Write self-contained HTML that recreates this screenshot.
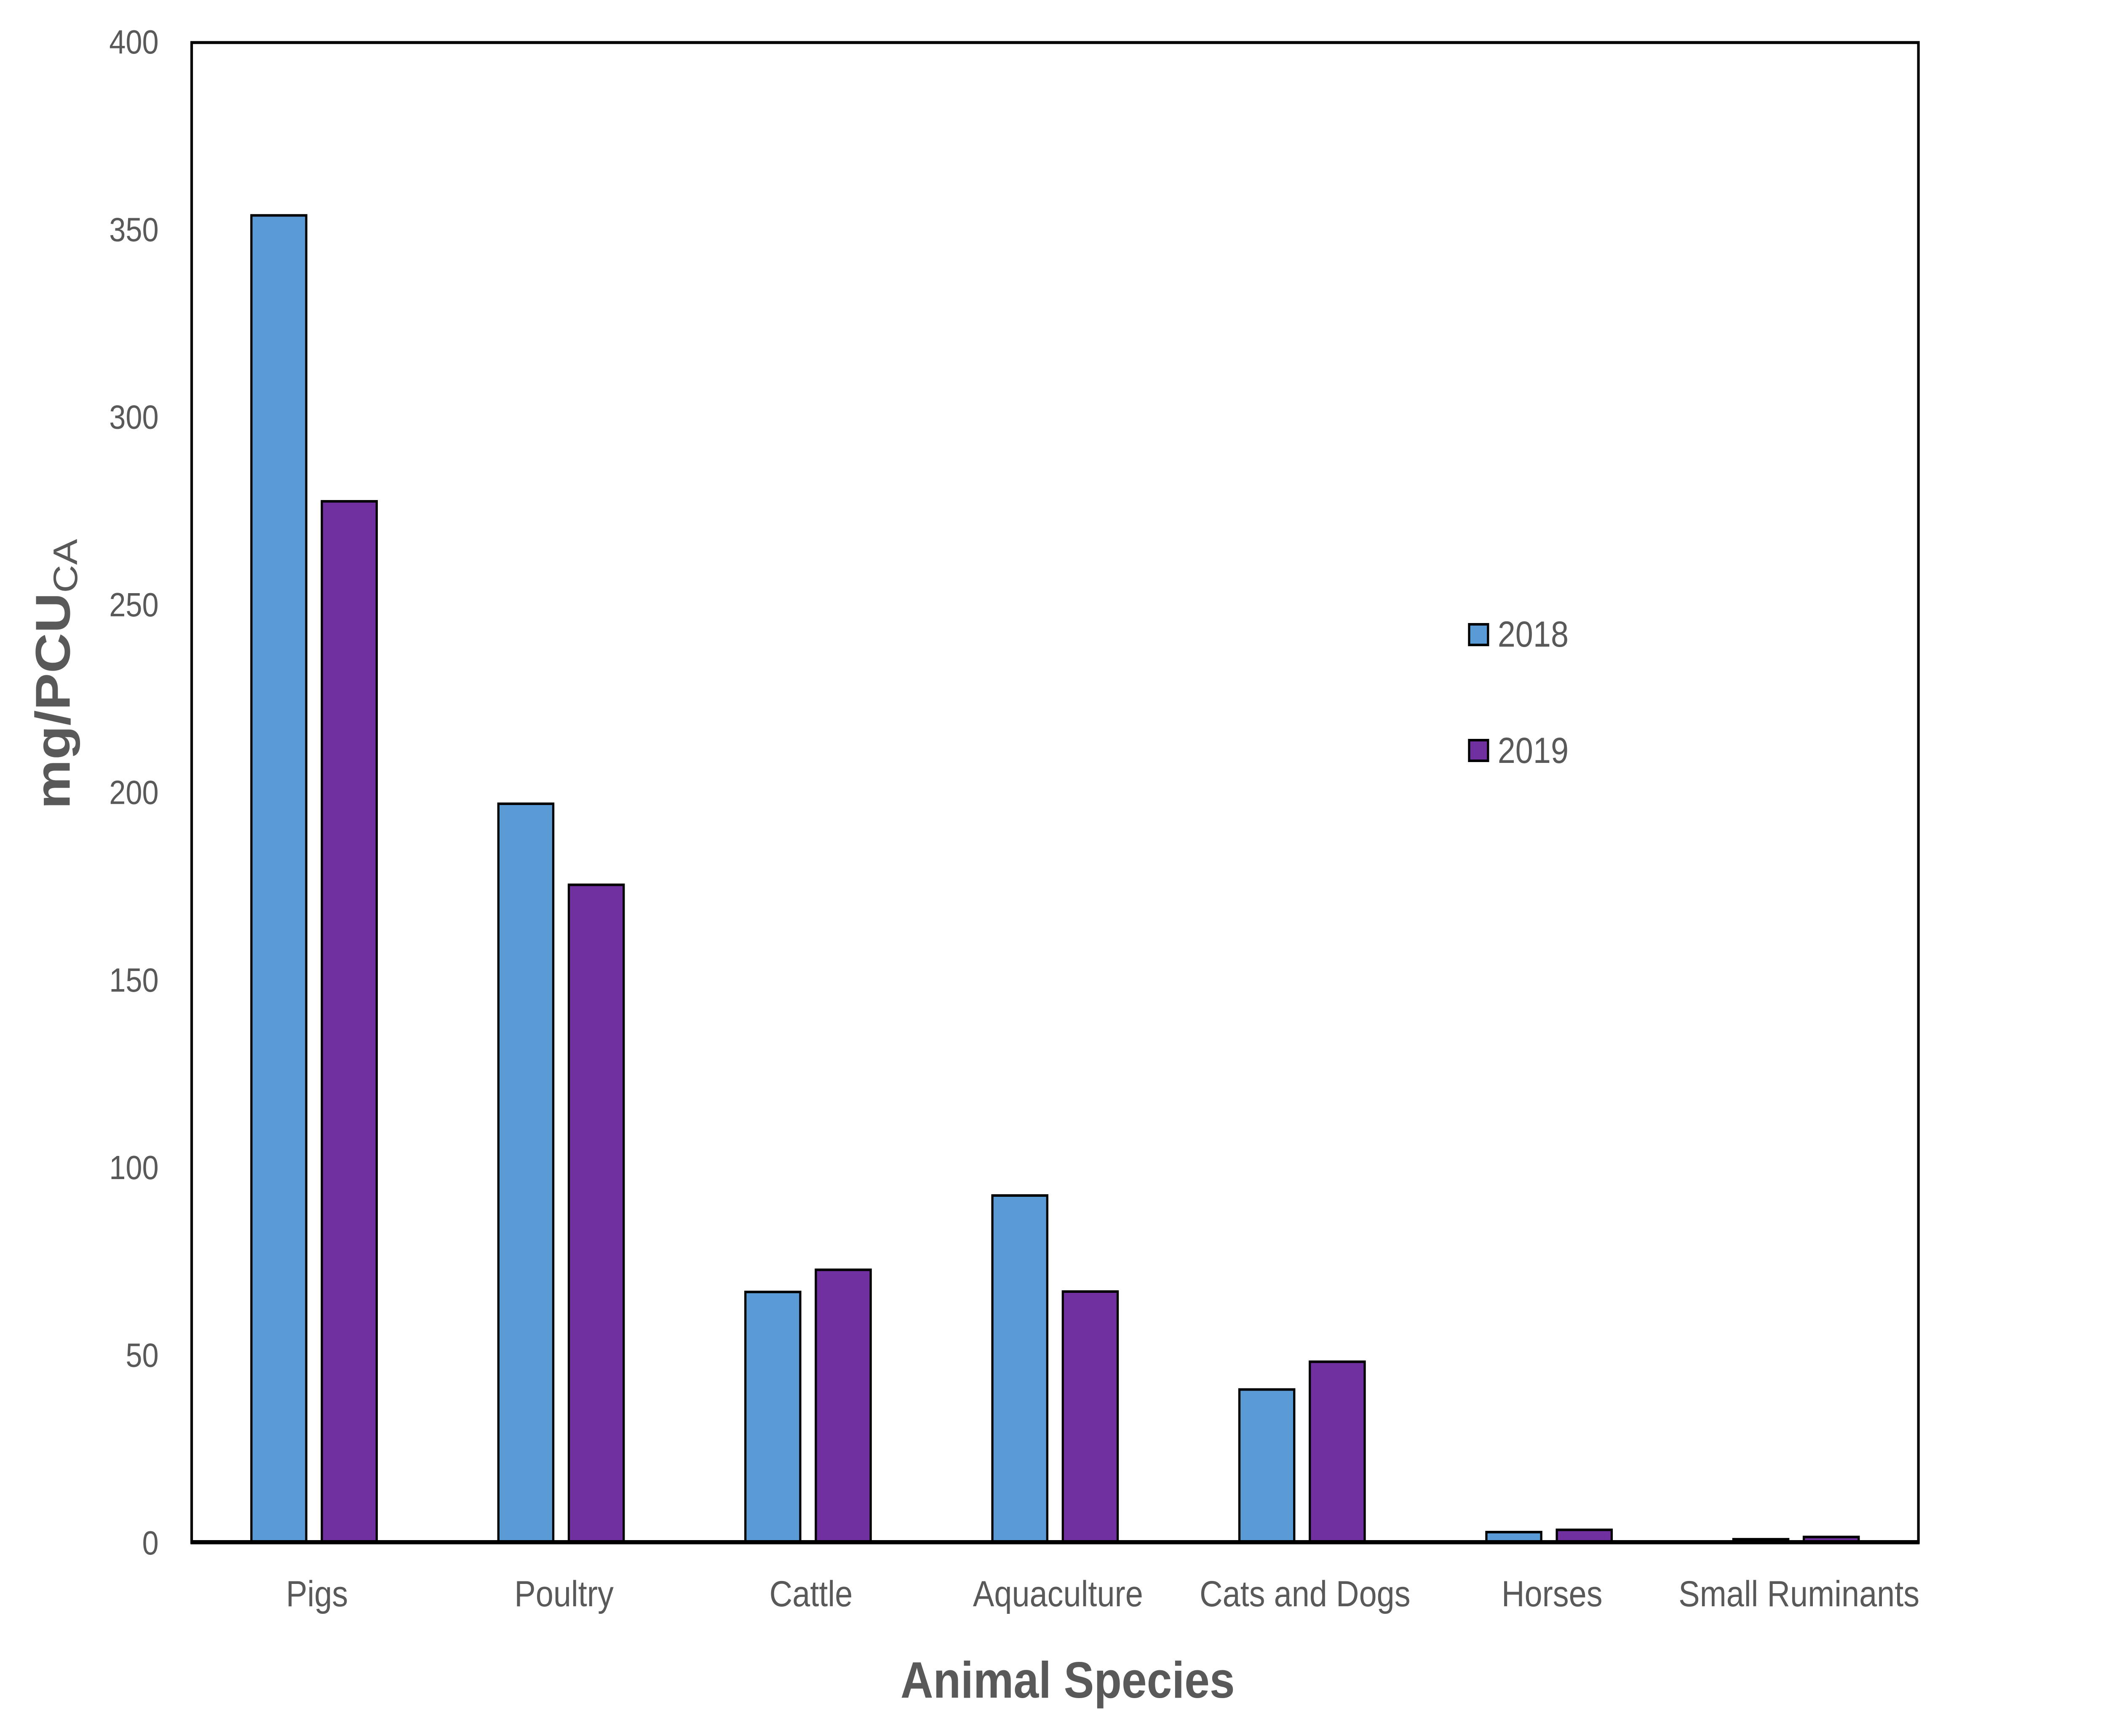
<!DOCTYPE html>
<html><head><meta charset="utf-8"><style>
html,body{margin:0;padding:0;background:#fff;width:100%;height:100%;overflow:hidden;}
svg{display:block;position:absolute;left:0;top:0;width:100vw;height:100vh;}
text{font-family:"Liberation Sans",sans-serif;fill:#595959;}
</style></head><body>
<svg id="chart" viewBox="0 0 5681 4121" preserveAspectRatio="none" xmlns="http://www.w3.org/2000/svg">
<rect x="0" y="0" width="5681" height="4121" fill="#fff"/>
<g id="bars"></g>
<rect x="517" y="101" width="4658" height="3560" fill="none" stroke="#000" stroke-width="7"/>
<line x1="514" y1="3661" x2="5178" y2="3661" stroke="#000" stroke-width="10"/>
<g id="yticks"></g>
<g id="xticks"></g>
<text transform="translate(188,1600) rotate(-90)" text-anchor="middle" font-size="132" font-weight="bold">mg/PCU<tspan font-size="92" font-weight="normal" baseline-shift="-22%">CA</tspan></text>
<text x="2880" y="4030" text-anchor="middle" font-size="122" font-weight="bold">Animal Species</text>
<g>
<rect x="3963" y="1482" width="51" height="49" fill="#5B9BD5" stroke="#000" stroke-width="6"/>
<text x="4040" y="1535" font-size="86">2018</text>
<rect x="3963" y="1757" width="51" height="49" fill="#7030A0" stroke="#000" stroke-width="6"/>
<text x="4040" y="1811" font-size="86">2019</text>
</g>
</svg>
<script>
const categories = ["Pigs","Poultry","Cattle","Aquaculture","Cats and Dogs","Horses","Small Ruminants"];
const values2018 = [353.6, 196.8, 66.7, 92.4, 40.7, 2.7, 0.8];
const values2019 = [277.4, 175.2, 72.6, 66.8, 48.1, 3.3, 1.4];
const yTicks = [0,50,100,150,200,250,300,350,400];

const NS = "http://www.w3.org/2000/svg";
const plotL = 514, plotR = 5178, plotT = 98, plotB = 3661, yMax = 400;
const bw = (plotR - plotL) / categories.length;
function yScale(v){ return plotB - (v / yMax) * (plotB - plotT); }
function xCenter(i){ return plotL + bw * (i + 0.5); }

const barsG = document.getElementById("bars");
const barW = 148, gap = 42;
function addBar(i, v, color, series){
  const r = document.createElementNS(NS, "rect");
  const x = series === 0 ? xCenter(i) - gap/2 - barW : xCenter(i) + gap/2;
  const y = yScale(v);
  r.setAttribute("x", x);
  r.setAttribute("y", y);
  r.setAttribute("width", barW);
  r.setAttribute("height", Math.max(plotB - y, 0));
  r.setAttribute("fill", color);
  r.setAttribute("stroke", "#000");
  r.setAttribute("stroke-width", "6");
  
  
  barsG.appendChild(r);
}
categories.forEach((c, i) => {
  addBar(i, values2018[i], "#5B9BD5", 0);
  addBar(i, values2019[i], "#7030A0", 1);
});

const yG = document.getElementById("yticks");
yTicks.forEach(t => {
  const tx = document.createElementNS(NS, "text");
  tx.setAttribute("x", 428);
  tx.setAttribute("y", yScale(t) + 29);
  tx.setAttribute("text-anchor", "end");
  tx.setAttribute("font-size", "80");
  tx.textContent = t;
  
  
  yG.appendChild(tx);
});

const xG = document.getElementById("xticks");
categories.forEach((c, i) => {
  const tx = document.createElementNS(NS, "text");
  tx.setAttribute("x", xCenter(i) + 8);
  tx.setAttribute("y", 3813);
  tx.setAttribute("text-anchor", "middle");
  tx.setAttribute("font-size", "86");
  tx.textContent = c;
  
  
  xG.appendChild(tx);
});
</script>
</body></html>
